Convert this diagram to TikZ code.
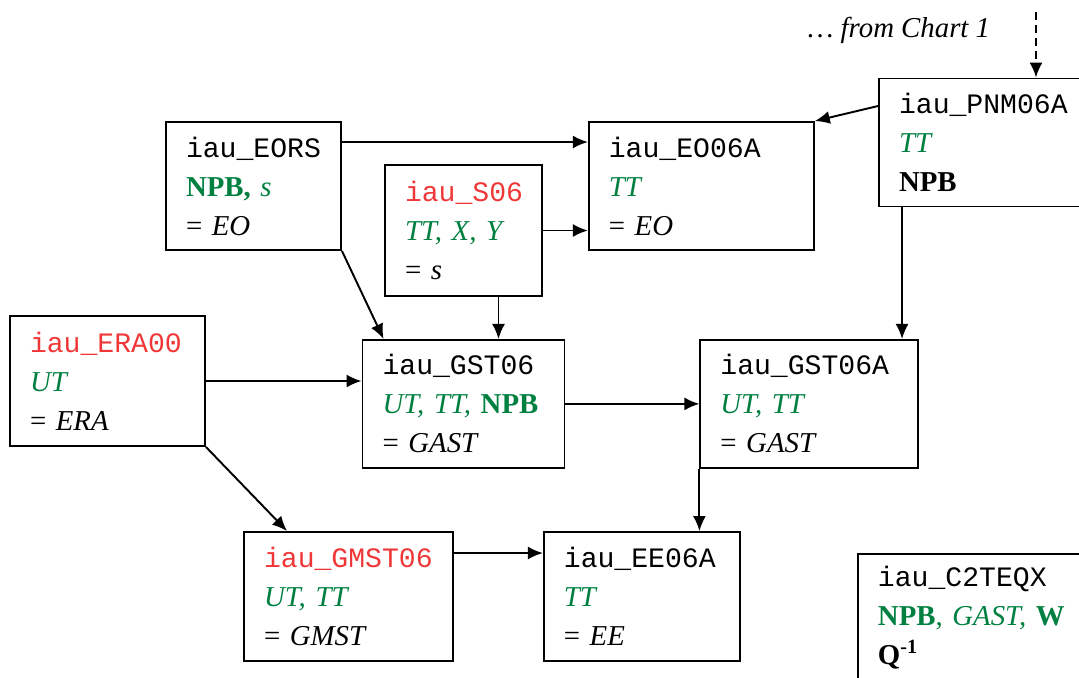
\documentclass[tikz,border=0pt]{standalone}
\usepackage{fontspec}
\setmainfont{Liberation Serif}
\setmonofont{Liberation Mono}
\usetikzlibrary{arrows.meta, positioning}
\definecolor{argcol}{RGB}{0,128,64}
\definecolor{fncol}{RGB}{240,55,55}
\newcommand{\fn}[1]{{\ttfamily\fontsize{16}{22.2}\selectfont #1}}
\newcommand{\fnred}[1]{\fn{\textcolor{fncol}{#1}}}
\newcommand{\inarg}[1]{\textcolor{argcol}{#1}}

\begin{document}
\begin{tikzpicture}[
    x=0.02cm, y=-0.02cm,
    func/.style={rectangle, draw, line width=1.1pt, align=left, inner xsep=0.4cm, minimum height=2.56cm, font=\fontsize{16.4}{22.2}\selectfont},
    arrow/.style={-{Latex[length=0.3cm,width=0.26cm]}, line width=1.1pt}
]
    \useasboundingbox (0,0) rectangle (1079,677);
    \clip (0,0) rectangle (1079,677);

    % Top row
    \node[func, text width=2.7cm] (eors) at (253.5,186) {\fn{iau\_EORS}\\ \inarg{\textbf{NPB,} \textit{s}}\\ = \textit{EO}};
    \node[func, text width=3.7cm, right=4.92cm of eors] (eo) {\fn{iau\_EO06A}\\ \inarg{\textit{TT}}\\ = \textit{EO}};
    \node[func, text width=2.34cm, minimum height=2.62cm] (s06) at (463.5,230.5) {\fnred{iau\_S06}\\ \inarg{\textit{TT, X, Y}}\\ = \textit{s}};
    \node[func, text width=3.62cm] (pnm) at (989.5,142.5) {\fn{iau\_PNM06A}\\ \inarg{\textit{TT}}\\ \textbf{NPB}};

    % Chart input
    \node[font=\fontsize{16.4}{22.2}\selectfont\itshape] (chartlbl) at (899,30) {… from Chart 1};
    \coordinate (chart) at (1036,12);

    % Middle row
    \node[func, text width=3.1cm, minimum height=2.6cm] (era) at (107.5,381) {\fnred{iau\_ERA00}\\ \inarg{\textit{UT}}\\ = \textit{ERA}};
    \node[func, text width=3.24cm, below=0.84cm of s06] (gst) {\fn{iau\_GST06}\\ \inarg{\textit{UT, TT,} \textbf{NPB}}\\ = \textit{GAST}};
    \node[func, text width=3.56cm, right=2.68cm of gst] (gsta) {\fn{iau\_GST06A}\\ \inarg{\textit{UT, TT}}\\ = \textit{GAST}};

    % Bottom row
    \node[func, text width=3.38cm, minimum height=2.58cm] (gmst) at (348.5,596.5) {\fnred{iau\_GMST06}\\ \inarg{\textit{UT, TT}}\\ = \textit{GMST}};
    \node[func, text width=3.12cm, minimum height=2.58cm, right=1.78cm of gmst] (ee) {\fn{iau\_EE06A}\\ \inarg{\textit{TT}}\\ = \textit{EE}};
    \node[func, text width=4.5cm, anchor=north west] (ctq) at (857,553) {\fn{iau\_C2TEQX}\\ \inarg{\textbf{NPB}, \textit{GAST,} \textbf{W}}\\ \textbf{Q\textsuperscript{-1}}};

    % Arrows
    \coordinate (s06out) at ([xshift=0.7cm]s06.south);
    \coordinate (pnmout) at ([xshift=0.48cm]pnm.south west);
    \draw[arrow, dash pattern=on 0.16cm off 0.1cm] (chart) -- (chart |- pnm.north);
    \draw[arrow] ([yshift=0.73cm]pnm.west) -- (eo.north east);
    \draw[arrow] ([yshift=0.88cm]eors.east) -- ([yshift=0.88cm]eo.west);
    \draw[arrow] (s06.east) -- (s06.east -| eo.west);
    \draw[arrow] (eors.south east) -- ([xshift=0.44cm]gst.north west);
    \draw[arrow] (s06out) -- (s06out |- gst.north);
    \draw[arrow] (pnmout) -- (pnmout |- gsta.north);
    \draw[arrow] (era.east) -- (era.east -| gst.west);
    \draw[arrow] (gst.east) -- (gsta.west);
    \draw[arrow] (era.south east) -- ([xshift=0.88cm]gmst.north west);
    \draw[arrow] (gsta.south west) -- (gsta.south west |- ee.north);
    \draw[arrow] ([yshift=0.87cm]gmst.east) -- ([yshift=0.87cm]ee.west);

\end{tikzpicture}
\end{document}
